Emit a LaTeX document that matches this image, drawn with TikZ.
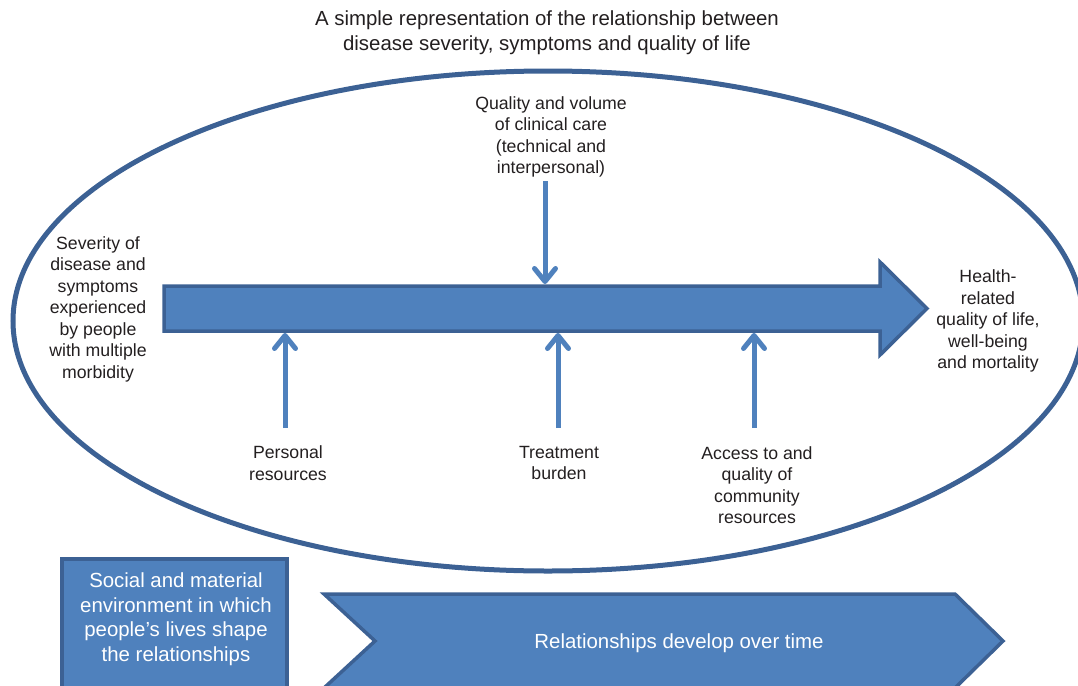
\documentclass[tikz,border=0pt]{standalone}
\usepackage{fontspec}
\setmainfont{Liberation Sans}
\usetikzlibrary{arrows.meta}
\definecolor{fillblue}{HTML}{4F81BD}
\definecolor{edgeblue}{HTML}{3C6194}
\definecolor{txt}{HTML}{231F20}
\tikzset{
  lbl/.style={align=center, text=txt, inner sep=0pt, font=\fontsize{17.7}{21.5}\selectfont},
  ttl/.style={align=center, text=txt, inner sep=0pt, font=\fontsize{20.4}{25}\selectfont},
  wlbl/.style={align=center, text=white, inner sep=0pt, font=\fontsize{20.4}{24.5}\selectfont},
  infl/.style={draw=fillblue, line width=5pt, -{Straight Barb[length=13pt,width=21pt,line width=5pt,round]}},
  blueshape/.style={fill=fillblue, draw=edgeblue, line width=3.5pt, line join=miter}
}
\begin{document}
\begin{tikzpicture}[x=1pt,y=-1pt]
\useasboundingbox (0,0) rectangle (1078,685);
\clip (0,0) rectangle (1078,685);
% ellipse
\draw[edgeblue, line width=5pt] (548,321) ellipse [x radius=535, y radius=250];
% title
\node[ttl] (title) at (547,33) {A simple representation of the relationship between\\disease severity, symptoms and quality of life};
% big arrow
\draw[blueshape] (164,286) -- (880,286) -- (880,262) -- (927,308.5) -- (880,355) -- (880,331) -- (164,331) -- cycle;
\coordinate (topbar) at (545,284);
\coordinate (b1) at (285,333);
\coordinate (b2) at (558,333);
\coordinate (b3) at (754,333);
% labels
\node[lbl] (clin) at (551,137) {Quality and volume\\of clinical care\\(technical and\\interpersonal)};
\node[lbl] (sev) at (98,309) {Severity of\\disease and\\symptoms\\experienced\\by people\\with multiple\\morbidity};
\node[lbl] (hrq) at (988,321) {Health-\\related\\quality of life,\\well-being\\and mortality};
\node[lbl] (pers) at (288,463) {Personal\\resources};
\node[lbl] (treat) at (559,463) {Treatment\\burden};
\node[lbl] (acc) at (757,485) {Access to and\\quality of\\community\\resources};
\coordinate (s0) at (545,181);
\coordinate (s1) at (285,428);
\coordinate (s2) at (558,428);
\coordinate (s3) at (754,428);
\draw[infl] (s0) -- (topbar);
\draw[infl] (s1) -- (b1);
\draw[infl] (s2) -- (b2);
\draw[infl] (s3) -- (b3);
% bottom box
\draw[blueshape, line width=4pt] (62,559) rectangle (287,700);
\node[wlbl] (env) at (176,619) {Social and material\\environment in which\\people’s lives shape\\the relationships};
% chevron
\draw[blueshape] (324,594) -- (955,594) -- (1003,641) -- (955,688) -- (324,688) -- (375,641) -- cycle;
\node[wlbl] (time) at (679,643) {Relationships develop over time};
\end{tikzpicture}
\end{document}
